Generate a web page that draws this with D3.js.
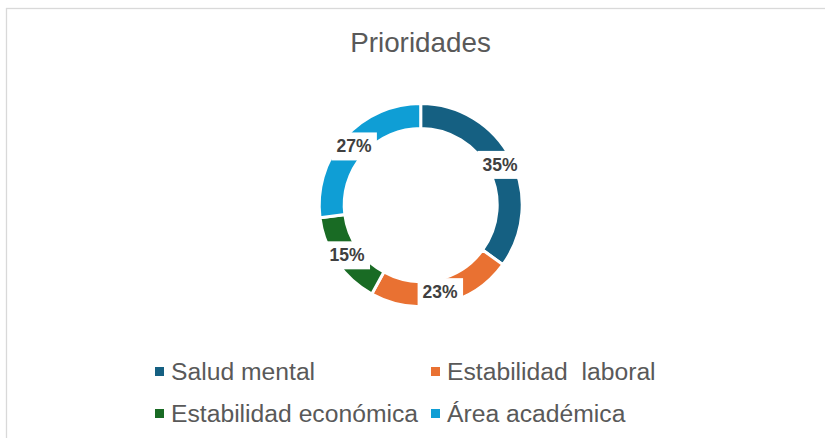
<!DOCTYPE html>
<html lang="es">

<head>
  <meta charset="UTF-8">
  <title>Prioridades</title>
  <style>
    body { margin: 0; background: #fff; }
    text { font-family: 'Liberation Sans', Arial, sans-serif; white-space: pre; }
  </style>
</head>

<body>
  <svg id="svg" width="825" height="438"></svg>

  <script src="https://cdn.jsdelivr.net/npm/d3@7"></script>
  <script>
    // data
    const categories = ['Salud mental', 'Estabilidad  laboral', 'Estabilidad económica', 'Área académica']
    const values = [35, 23, 15, 27]
    const colors = ['#156082', '#E97132', '#196B24', '#0F9ED5']
    const title = 'Prioridades'

    const svg = d3.select('#svg')

    // chart area border
    svg.append('rect')
      .attr('x', 6.5)
      .attr('y', 8.5)
      .attr('width', 900)
      .attr('height', 500)
      .attr('fill', '#fff')
      .attr('stroke', '#d9d9d9')
      .attr('stroke-width', 1.3)

    svg.append('text')
      .text(title)
      .attr('x', 420.5)
      .attr('y', 52)
      .attr('text-anchor', 'middle')
      .attr('fill', '#595959')
      .style('font-size', '27.8px')

    const color = d3.scaleOrdinal()
      .domain(categories)
      .range(colors)

    const pie = d3.pie()
      .sort(null)
      .value(d => d.value)

    const data = categories.map((c, i) => ({ name: c, value: values[i] }))
    const arcs = pie(data)
    const total = d3.sum(values)

    const arc = d3.arc()
      .innerRadius(76.5)
      .outerRadius(101.5)

    const labelArc = d3.arc()
      .innerRadius(89)
      .outerRadius(89)

    const donut = svg.append('g')
      .attr('transform', 'translate(420.7,205)')

    donut.selectAll('path')
      .data(arcs)
      .enter()
      .append('path')
      .attr('d', arc)
      .attr('fill', d => color(d.data.name))
      .attr('stroke', '#fff')
      .attr('stroke-width', 3)

    // data labels with white boxes
    const labels = donut.selectAll('g.lab')
      .data(arcs)
      .enter()
      .append('g')
      .attr('class', 'lab')
      .attr('transform', d => 'translate(' + labelArc.centroid(d) + ')')

    labels.append('rect')
      .attr('fill', '#fff')

    labels.append('text')
      .text(d => Math.round(d.data.value / total * 100) + '%')
      .attr('text-anchor', 'middle')
      .attr('dy', '0.36em')
      .attr('fill', '#404040')
      .style('font-size', '17.5px')
      .style('font-weight', 'bold')

    labels.each(function () {
      const g = d3.select(this)
      const b = g.select('text').node().getBBox()
      g.select('rect')
        .attr('x', b.x - 5)
        .attr('y', b.y - 4)
        .attr('width', b.width + 10)
        .attr('height', b.height + 8)
    })

    // legend, 2 x 2 grid
    const colX = [155, 431]
    const rowY = [367, 409]
    const legend = svg.selectAll('g.leg')
      .data(categories)
      .enter()
      .append('g')
      .attr('class', 'leg')
      .attr('transform', (d, i) => 'translate(' + colX[i % 2] + ',' + rowY[Math.floor(i / 2)] + ')')

    legend.append('rect')
      .attr('width', 9)
      .attr('height', 9)
      .attr('fill', d => color(d))

    legend.append('text')
      .text(d => d)
      .attr('x', 16)
      .attr('y', 13)
      .attr('fill', '#595959')
      .style('font-size', '24.7px')
  </script>
</body>

</html>
